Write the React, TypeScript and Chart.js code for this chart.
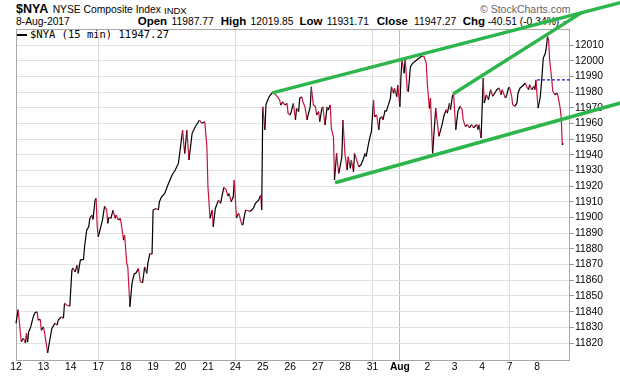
import { useEffect, useRef } from "react";
import { Chart, registerables } from "chart.js";

Chart.register(...registerables);

// ---- data ----
const dayLabels = ["12", "13", "14", "17", "18", "19", "20", "21", "24", "25", "26", "27", "28", "31", "Aug", "2", "3", "4", "7", "8"];
const barsPerDay = 26; // 15-minute bars per session
const mondayDays = [3, 8, 13, 18];
const monthStartDay = 14;
const priceTicks = [11820, 11830, 11840, 11850, 11860, 11870, 11880, 11890, 11900, 11910, 11920, 11930, 11940, 11950, 11960, 11970, 11980, 11990, 12000, 12010];

const bars = [
  0, 2, 5, 7, 9, 10, 11, 12, 14, 16, 18, 20, 21, 23, 24,
  26, 27, 30, 32, 34, 37, 39, 40, 43, 45, 46, 48, 51,
  53, 54, 56, 58, 59, 61, 64, 65, 67, 69, 70, 72, 73, 75, 76, 77,
  78, 80, 82, 84, 86, 87, 88, 90, 92, 94, 95, 97, 99, 100, 102, 103,
  105, 106, 108, 110, 112, 114, 116, 118, 120, 122, 124, 125, 127, 129,
  130, 133, 135, 136, 138, 141, 144, 148, 151, 154, 155,
  158, 159, 160, 162, 164, 167, 170, 173, 174, 176, 179, 181,
  182, 184, 186, 187, 189, 192, 194, 197, 199, 201, 202, 204, 206, 207,
  209, 211, 212, 214, 215, 217, 218, 222, 225, 227, 230, 232, 233,
  234, 236, 237, 238, 240, 243, 245, 248, 250, 251, 253, 255, 257, 258,
  260, 261, 263, 265, 266, 268, 269, 271, 272, 274, 276, 277, 279, 280, 282, 284, 285,
  287, 288, 290, 291, 293, 295, 296, 298, 299, 301, 302, 304, 306, 307, 309, 310,
  312, 314, 315, 317, 318, 320, 321, 323, 325, 327, 329, 331, 332, 334, 336, 337,
  339, 340, 342, 344, 345, 347, 348, 350, 351, 353, 355, 356, 358, 359, 361, 362,
  364, 365, 366, 368, 369, 371, 372, 374, 376, 378, 380, 382, 385, 387, 389,
  390, 392, 393, 395, 398, 399, 401, 404, 406, 408, 409, 411, 412, 414, 415,
  417, 419, 421, 423, 424, 426, 428, 430, 432, 434, 435, 437, 438, 439, 441,
  443, 444, 446, 448, 450, 452, 454, 456, 458, 460, 461, 464, 465, 467,
  468, 470, 471, 473, 475, 476, 478, 480, 483, 484, 486, 487, 489, 491, 492, 493,
  495, 497, 498, 500, 502, 503, 504, 505, 506, 508, 509, 511, 513, 514, 516, 517, 518, 519,
];

const prices = [
  11832.5, 11841.4, 11820.8, 11823.1, 11820.0, 11826.3, 11820.6, 11827.1, 11830.3, 11835.9, 11839.3, 11839.9, 11834.6, 11835.2, 11828.2,
  11830.3, 11827.1, 11813.7, 11821.8, 11829.3, 11832.7, 11831.4, 11834.6, 11836.7, 11835.9, 11845.4, 11844.2, 11843.5,
  11866.5, 11867.8, 11865.4, 11869.7, 11864.4, 11872.9, 11873.3, 11881.4, 11892.0, 11894.1, 11899.5, 11901.6, 11898.8, 11911.1, 11912.2, 11894.1,
  11887.7, 11893.1, 11898.4, 11907.3, 11904.8, 11896.3, 11900.1, 11899.5, 11904.8, 11899.5, 11901.6, 11898.4, 11899.5, 11895.2, 11885.6, 11888.8,
  11870.8, 11868.6, 11843.1, 11858.0, 11863.9, 11864.8, 11867.6, 11859.0, 11858.4, 11868.6, 11864.4, 11870.8, 11877.1, 11876.7,
  11904.8, 11905.8, 11904.8, 11910.1, 11913.2, 11915.4, 11920.7, 11927.1, 11930.3, 11934.5, 11939.8,
  11955.8, 11947.3, 11940.9, 11955.8, 11936.7, 11953.7, 11957.9, 11961.1, 11962.2, 11960.1, 11961.1, 11945.1,
  11919.6, 11899.5, 11904.8, 11894.1, 11905.8, 11911.1, 11909.0, 11919.2, 11918.0, 11913.7, 11915.4, 11910.1, 11913.2, 11923.9,
  11899.7, 11902.7, 11900.9, 11895.8, 11895.2, 11902.7, 11904.8, 11903.9, 11905.8, 11909.0, 11911.1, 11914.3, 11904.8,
  11970.6, 11955.8, 11971.7, 11973.8, 11977.0, 11979.6, 11979.2, 11977.0, 11974.9, 11971.7, 11973.8, 11971.7, 11972.8, 11966.4,
  11965.4, 11967.5, 11972.8, 11962.2, 11969.6, 11967.5, 11976.0, 11977.0, 11973.8, 11970.6, 11962.2, 11965.4, 11970.6, 11983.4, 11971.7, 11970.6, 11965.4,
  11967.5, 11961.1, 11969.6, 11970.6, 11959.0, 11970.6, 11968.5, 11971.7, 11956.9, 11951.5, 11923.9, 11940.9, 11928.2, 11931.4, 11938.8, 11962.2,
  11939.8, 11930.3, 11938.8, 11931.4, 11936.7, 11929.2, 11940.9, 11936.7, 11932.4, 11933.5, 11936.7, 11940.9, 11938.8, 11946.2, 11952.6, 11954.7,
  11974.9, 11964.3, 11965.4, 11955.8, 11963.2, 11964.3, 11962.2, 11968.5, 11967.5, 11971.7, 11976.0, 11983.4, 11979.2, 11982.4, 11977.0, 11984.5,
  11970.6, 11989.8, 12000.4, 11992.0, 12001.5, 11981.3, 11980.2, 11996.2, 11998.3, 11999.3, 12000.4, 12001.5, 12003.0, 12002.5, 11998.3,
  11985.6, 11969.6, 11976.0, 11940.9, 11969.8, 11963.4, 11951.8, 11959.2, 11965.5, 11968.7, 11966.6, 11973.0, 11968.7, 11978.3, 11978.0,
  11956.0, 11967.7, 11970.9, 11968.7, 11962.4, 11958.1, 11959.2, 11957.1, 11959.2, 11957.1, 11958.1, 11959.2, 11956.0, 11959.2, 11950.7,
  11989.0, 11973.0, 11978.3, 11975.1, 11981.5, 11977.3, 11979.4, 11981.5, 11982.6, 11978.3, 11981.5, 11976.2, 11977.3, 11982.6,
  11983.0, 11977.3, 11971.9, 11970.9, 11973.0, 11979.4, 11982.6, 11983.7, 11985.8, 11983.7, 11981.5, 11984.7, 11981.5, 11983.7, 11981.5, 11987.77,
  11969.8, 11976.2, 11983.7, 12001.7, 12004.9, 12009.2, 12015.5, 12013.4, 12000.6, 11987.9, 11980.5, 11978.3, 11979.4, 11977.3, 11969.8, 11963.4, 11946.4, 11947.27,
];

// trend lines drawn on the chart: [bar, price] endpoints
const upperChannel = [[243, 11979.5], [575, 12037.3]];
const lowerChannel = [[302.5, 11922.2], [575, 11973.4]];
const risingLine = [[414.4, 11978.7], [536.7, 12030.8]];
const prevClose = 11987.77;
const prevCloseSpan = [494, 530];

const RED = "#c8143c";
const BLACK = "#000000";
const GREEN = "#2cb54b";
const SANS = '"Liberation Sans", Arial, sans-serif';

export default function App() {
  const ref = useRef<HTMLCanvasElement | null>(null);

  useEffect(() => {
    document.body.style.margin = "0";
    const canvas = ref.current;
    if (!canvas) return;

    const frame = {
      id: "frame",
      beforeDatasetsDraw(chart: any) {
        const { ctx, chartArea: a } = chart;
        ctx.save();
        ctx.strokeStyle = "#a8a8a8";
        ctx.lineWidth = 1;
        ctx.strokeRect(a.left + 0.5, a.top + 0.5, a.right - a.left - 1, a.bottom - a.top);
        ctx.restore();
      },
    };

    const priceData = bars.map((b, i) => ({ x: b, y: prices[i] }));
    const toPts = (arr: number[][]) => arr.map(([x, y]) => ({ x, y }));
    const dayTicks = dayLabels.map((_, i) => i * barsPerDay);

    const chart = new Chart(canvas, {
      type: "line",
      data: {
        datasets: [
          {
            data: toPts(upperChannel),
            borderColor: GREEN,
            borderWidth: 3.5,
            pointRadius: 0,
            clip: false as any,
            order: 1,
          },
          {
            data: toPts(lowerChannel),
            borderColor: GREEN,
            borderWidth: 3.5,
            pointRadius: 0,
            clip: false as any,
            order: 1,
          },
          {
            data: toPts(risingLine),
            borderColor: GREEN,
            borderWidth: 3.5,
            pointRadius: 0,
            clip: false as any,
            order: 1,
          },
          {
            data: prevCloseSpan.map((b) => ({ x: b, y: prevClose })),
            borderColor: "#1a1ad0",
            borderWidth: 1.3,
            borderDash: [3, 2],
            pointRadius: 0,
            order: 2,
          },
          {
            data: priceData,
            borderColor: BLACK,
            borderWidth: 1.2,
            pointRadius: 0,
            tension: 0,
            clip: false as any,
            order: 3,
            segment: {
              borderColor: (c: any) => (c.p1.parsed.y < c.p0.parsed.y ? RED : BLACK),
            },
          },
        ],
      },
      options: {
        animation: false,
        responsive: false,
        events: [],
        layout: { padding: { left: 16, top: 29, right: 0, bottom: 0 } },
        plugins: { legend: { display: false }, tooltip: { enabled: false } },
        scales: {
          x: {
            type: "linear",
            min: 0,
            max: 525.3,
            afterFit: (s: any) => {
              s.height = 16;
            },
            afterBuildTicks: (s: any) => {
              s.ticks = dayTicks.map((v) => ({ value: v }));
            },
            border: { display: false },
            grid: {
              drawTicks: false,
              color: (c: any) => {
                const d = Math.round((c.tick?.value ?? -1) / barsPerDay);
                if (d === monthStartDay) return "#bdbdbd";
                if (mondayDays.includes(d)) return "#dcdcdc";
                return "rgba(0,0,0,0)";
              },
            },
            ticks: {
              autoSkip: false,
              maxRotation: 0,
              padding: 1,
              color: "#000",
              font: (c: any) => ({
                family: SANS,
                size: 10.3,
                weight: dayLabels[c.index] === "Aug" ? "bold" : "normal",
              }),
              callback: (v: any) => dayLabels[Math.round(Number(v) / barsPerDay)] ?? "",
            },
          },
          y: {
            position: "right",
            min: 11809.2,
            max: 12020.2,
            afterFit: (s: any) => {
              s.width = 50;
            },
            afterBuildTicks: (s: any) => {
              s.ticks = priceTicks.map((v) => ({ value: v }));
            },
            border: { display: false },
            grid: {
              color: "#e0e0e0",
              tickLength: 4,
              tickColor: "#9a9a9a",
            },
            ticks: {
              padding: 1,
              color: "#000",
              font: { family: SANS, size: 10.3 },
              callback: (v: any) => String(v),
            },
          },
        },
      },
      plugins: [frame],
    } as any);

    return () => chart.destroy();
  }, []);

  const abs = (left: number, top: number, extra: any = {}) => ({
    position: "absolute" as const,
    left,
    top,
    lineHeight: 1,
    whiteSpace: "nowrap" as const,
    ...extra,
  });
  const reg = { fontSize: 10.3 };
  const bold = { fontSize: 11.5, fontWeight: "bold" };

  return (
    <div
      style={{
        position: "absolute",
        left: 0,
        top: 0,
        width: 620,
        height: 376,
        background: "#fff",
        fontFamily: SANS,
        color: "#000",
        overflow: "hidden",
      }}
    >
      <div style={abs(16, 3.4, { fontSize: 12.5, fontWeight: "bold" })}>$NYA</div>
      <div style={abs(52.7, 5.3, reg)}>NYSE Composite Index</div>
      <div style={abs(164, 6, { fontSize: 9.5 })}>INDX</div>
      <div style={abs(480, 4.1, { fontSize: 10.5, color: "#666" })}>© StockCharts.com</div>

      <div style={abs(16, 17.3, reg)}>8-Aug-2017</div>
      <div style={abs(137.7, 16.3, bold)}>Open</div>
      <div style={abs(171.5, 17.3, reg)}>11987.77</div>
      <div style={abs(220.7, 16.3, bold)}>High</div>
      <div style={abs(250.5, 17.3, reg)}>12019.85</div>
      <div style={abs(299.5, 16.3, bold)}>Low</div>
      <div style={abs(326.7, 17.3, reg)}>11931.71</div>
      <div style={abs(376.7, 16.3, bold)}>Close</div>
      <div style={abs(414, 17.3, reg)}>11947.27</div>
      <div style={abs(462.7, 16.3, bold)}>Chg</div>
      <div style={abs(487.7, 17.3, reg)}>-40.51 (-0.34%)</div>
      <div style={abs(562, 18.5, { fontSize: 7, color: RED })}>▼</div>

      <div style={{ position: "absolute", left: 17, top: 33.5, width: 10, height: 2.5, background: "#000" }} />
      <div style={abs(30, 29.3, { fontSize: 10.5, fontFamily: '"DejaVu Sans Mono", monospace' })}>
        $NYA (15 min) 11947.27
      </div>

      <canvas ref={ref} width={620} height={376} style={{ position: "absolute", left: 0, top: 0 }} />
    </div>
  );
}
